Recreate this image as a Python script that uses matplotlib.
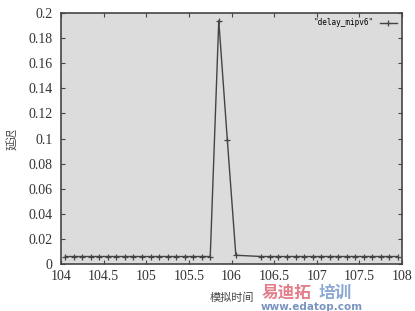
import matplotlib
matplotlib.use("Agg")
import matplotlib.pyplot as plt

# data
sim_time = [104.05, 104.15, 104.25, 104.35, 104.45, 104.55, 104.65, 104.75, 104.85,
            104.95, 105.05, 105.15, 105.25, 105.35, 105.45, 105.55, 105.65, 105.75,
            105.85, 105.95, 106.05,
            106.35, 106.45, 106.55, 106.65, 106.75, 106.85, 106.95, 107.05, 107.15,
            107.25, 107.35, 107.45, 107.55, 107.65, 107.75, 107.85, 107.95]
delay = [0.006, 0.006, 0.006, 0.006, 0.006, 0.006, 0.006, 0.006, 0.006,
         0.006, 0.006, 0.006, 0.006, 0.006, 0.006, 0.006, 0.006, 0.006,
         0.194, 0.099, 0.007,
         0.006, 0.006, 0.006, 0.006, 0.006, 0.006, 0.006, 0.006, 0.006,
         0.006, 0.006, 0.006, 0.006, 0.006, 0.006, 0.006, 0.006]
xticks = [104, 104.5, 105, 105.5, 106, 106.5, 107, 107.5, 108]
xticklabels = ["104", "104.5", "105", "105.5", "106", "106.5", "107", "107.5", "108"]
yticks = [0, 0.02, 0.04, 0.06, 0.08, 0.1, 0.12, 0.14, 0.16, 0.18, 0.2]
yticklabels = ["0", "0.02", "0.04", "0.06", "0.08", "0.1", "0.12", "0.14", "0.16", "0.18", "0.2"]

serif = ["Liberation Serif", "DejaVu Serif"]
cjk = ["Noto Sans CJK SC", "DejaVu Sans"]

fig = plt.figure(figsize=(4.15, 3.11), dpi=100)
ax = fig.add_axes([0.147, 0.151, 0.822, 0.807])
ax.set_facecolor("#dcdcdc")

ax.plot(sim_time, delay, color="#444444", lw=1.0, marker="+", ms=4, mew=0.9,
        label='"delay_mipv6"')

ax.set_xlim(104, 108)
ax.set_ylim(0, 0.2)
ax.set_xticks(xticks)
ax.set_xticklabels(xticklabels, family=serif, fontsize=10, color="#333333")
ax.set_yticks(yticks)
ax.set_yticklabels(yticklabels, family=serif, fontsize=10, color="#333333")
ax.tick_params(direction="in", length=3, color="#444444", top=True, right=True)
ax.tick_params(axis="x", pad=4)
ax.tick_params(axis="y", pad=6)
for s in ax.spines.values():
    s.set_color("#444444")
    s.set_linewidth(1.2)

ax.set_xlabel("模拟时间", family=cjk, fontsize=8, color="#444444", labelpad=7)
ax.set_ylabel("延迟", family=cjk, fontsize=8, color="#444444", labelpad=7)

leg = ax.legend(loc="upper right", frameon=False, handlelength=2.2, markerfirst=False,
                borderaxespad=0.3, handletextpad=0.8,
                prop={"family": "DejaVu Sans Mono", "size": 5.5})

# watermark, kept below the tick labels
fig.text(0.63, 0.06, "易迪拓", family=cjk, fontsize=12, color="#e06f7d",
         fontweight="bold", va="center", alpha=0.9)
fig.text(0.768, 0.06, "培训", family=cjk, fontsize=12, color="#7f9fd0",
         fontweight="bold", va="center", alpha=0.9)
fig.text(0.75, 0.013, "www.edatop.com", family="DejaVu Sans", fontsize=7.5,
         color="#6a89b8", fontweight="bold", ha="center", va="center", alpha=0.9)

fig.savefig("out.png", dpi=100)
